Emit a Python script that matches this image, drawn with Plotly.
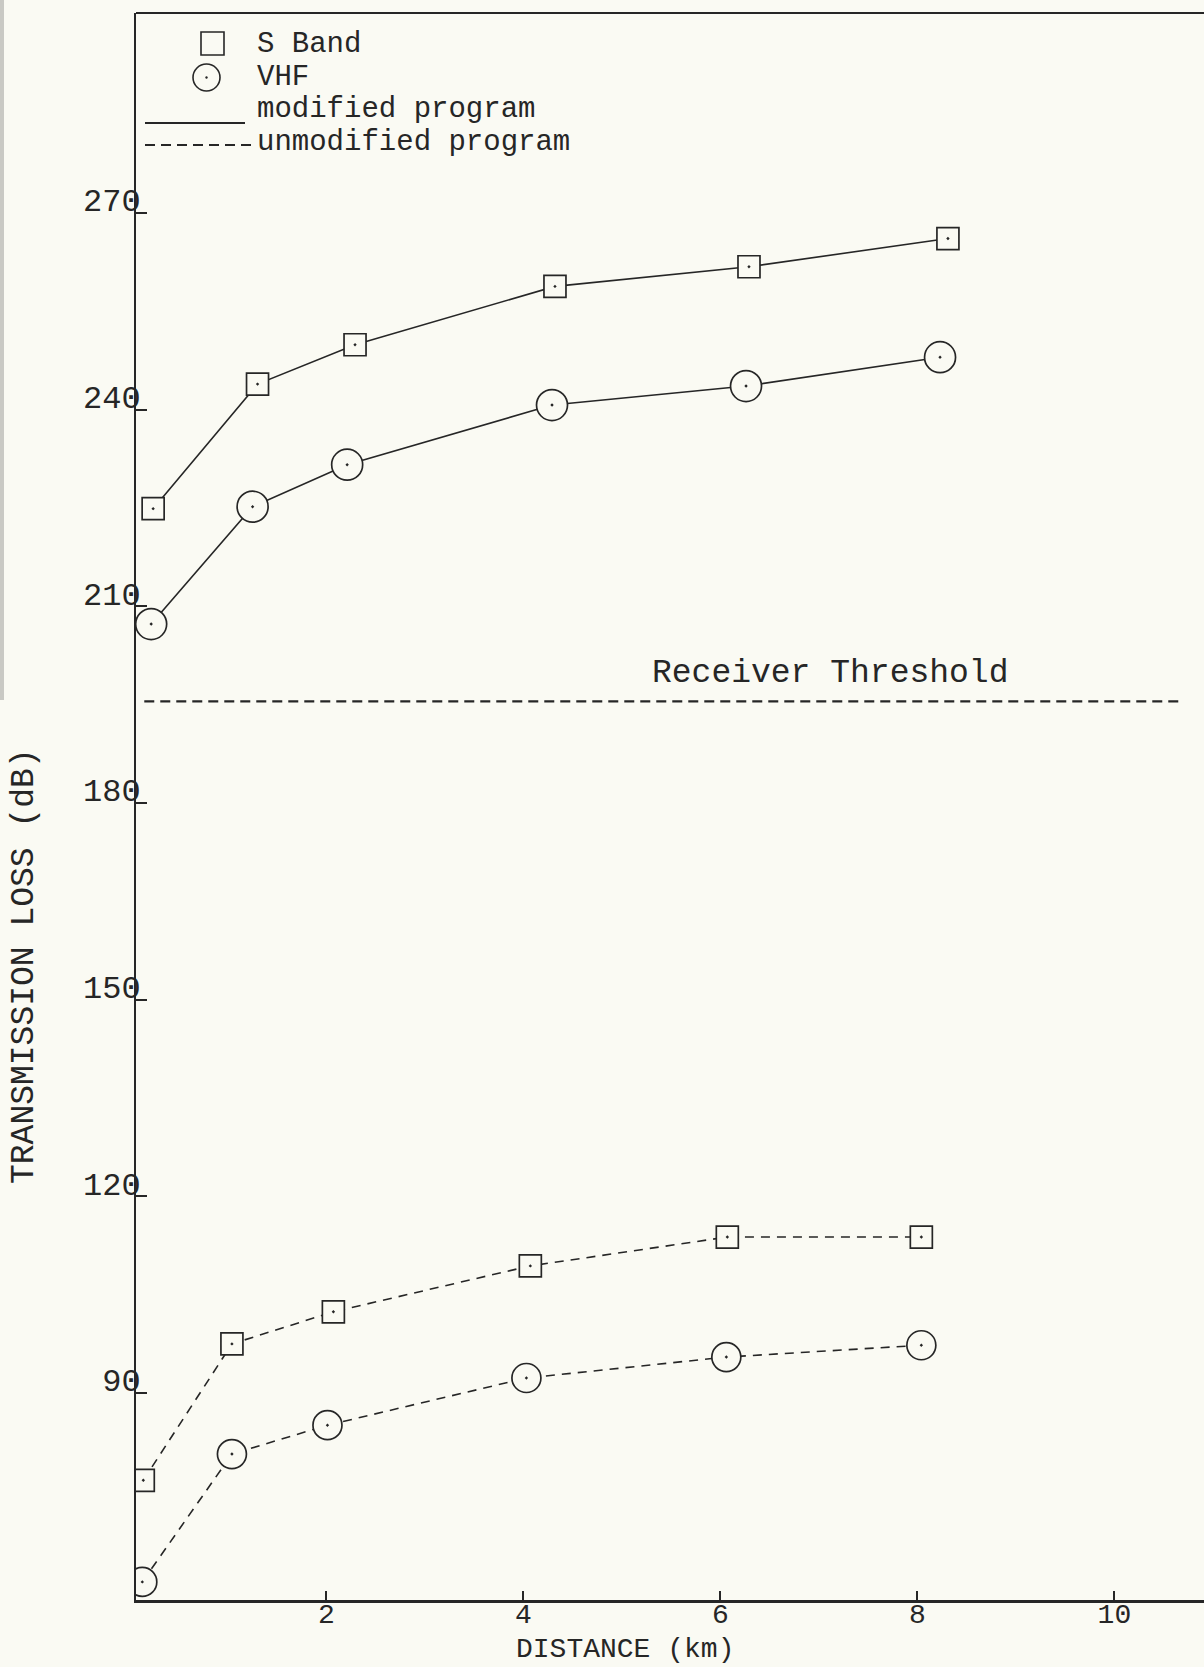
import plotly.graph_objects as go

# ---------------- data ----------------
sband_mod_x = [0.24, 1.30, 2.29, 4.32, 6.29, 8.31]
sband_mod_y = [224.9, 243.9, 249.9, 258.8, 261.8, 266.1]
vhf_mod_x = [0.22, 1.25, 2.21, 4.29, 6.26, 8.23]
vhf_mod_y = [207.3, 225.2, 231.6, 240.7, 243.6, 248.0]
sband_unmod_x = [0.14, 1.04, 2.07, 4.07, 6.07, 8.04]
sband_unmod_y = [76.7, 97.5, 102.4, 109.4, 113.8, 113.8]
vhf_unmod_x = [0.13, 1.04, 2.01, 4.03, 6.06, 8.04]
vhf_unmod_y = [61.2, 80.7, 85.1, 92.3, 95.5, 97.3]
threshold_x = [0.15, 10.65]
threshold_level = 195.5
x_ticks = [2, 4, 6, 8, 10]
y_ticks = [90, 120, 150, 180, 210, 240, 270]

# ---------------- layout geometry ----------------
W, H = 1204, 1667
L, R, T, B = 136, 0, 13, 67
PW, PH = W - L - R, H - T - B
BG = "#fafaf3"
INK = "#262626"
FONT = "Liberation Mono, DejaVu Sans Mono, monospace"
FS = 33      # annotations (threshold, y title)
FS_LEG = 29  # legend lines (tightly stacked)
FS_Y = 32    # y tick labels
FS_X = 28    # x tick labels and x title


def px(x):
    return (x - L) / PW


def py(y):
    return (H - B - y) / PH


fig = go.Figure()

marker_common = dict(color=BG, line=dict(color=INK, width=1.7))

fig.add_trace(go.Scatter(
    x=sband_mod_x, y=sband_mod_y, mode="lines+markers", showlegend=False,
    line=dict(color=INK, width=1.6),
    marker=dict(symbol="square-dot", size=22, **marker_common)))
fig.add_trace(go.Scatter(
    x=vhf_mod_x, y=vhf_mod_y, mode="lines+markers", showlegend=False,
    line=dict(color=INK, width=1.6),
    marker=dict(symbol="circle-dot", size=31, **marker_common)))
fig.add_trace(go.Scatter(
    x=sband_unmod_x, y=sband_unmod_y, mode="lines+markers", showlegend=False,
    line=dict(color=INK, width=1.6, dash="9px,7px"),
    marker=dict(symbol="square-dot", size=22, **marker_common)))
fig.add_trace(go.Scatter(
    x=vhf_unmod_x, y=vhf_unmod_y, mode="lines+markers", showlegend=False,
    line=dict(color=INK, width=1.6, dash="9px,7px"),
    marker=dict(symbol="circle-dot", size=29, **marker_common)))
fig.add_trace(go.Scatter(
    x=threshold_x, y=[threshold_level] * len(threshold_x), mode="lines",
    showlegend=False, line=dict(color=INK, width=2.2, dash="10px,6px")))

shapes = []
# top border
shapes.append(dict(type="line", xref="paper", yref="paper", x0=0, x1=1,
                   y0=1, y1=1, line=dict(color=INK, width=2)))
# legend symbols
shapes.append(dict(type="rect", xref="paper", yref="paper",
                   x0=px(201), x1=px(224), y0=py(55), y1=py(32),
                   line=dict(color=INK, width=1.6)))
shapes.append(dict(type="circle", xref="paper", yref="paper",
                   x0=px(193), x1=px(220), y0=py(91), y1=py(64),
                   line=dict(color=INK, width=1.6)))
shapes.append(dict(type="circle", xref="paper", yref="paper",
                   x0=px(205.5), x1=px(207.5), y0=py(78.5), y1=py(76.5),
                   fillcolor=INK, line=dict(color=INK, width=0.5)))
shapes.append(dict(type="line", xref="paper", yref="paper",
                   x0=px(145), x1=px(245), y0=py(123), y1=py(123),
                   line=dict(color=INK, width=1.8)))
shapes.append(dict(type="line", xref="paper", yref="paper",
                   x0=px(145), x1=px(257), y0=py(145), y1=py(145),
                   line=dict(color=INK, width=1.8, dash="10px,6px")))
# scan edge artefact at far left
shapes.append(dict(type="rect", xref="paper", yref="paper",
                   x0=px(0), x1=px(4), y0=py(700), y1=py(0),
                   fillcolor="#c9c9c4", line=dict(width=0), layer="below"))

leg_font = dict(family=FONT, size=FS_LEG, color=INK)
ann_font = dict(family=FONT, size=FS, color=INK)
annotations = [
    dict(text="S Band", x=px(255), y=py(44), xref="paper", yref="paper",
         xanchor="left", yanchor="middle", showarrow=False, font=leg_font),
    dict(text="VHF", x=px(255), y=py(77), xref="paper", yref="paper",
         xanchor="left", yanchor="middle", showarrow=False, font=leg_font),
    dict(text="modified program", x=px(255), y=py(110), xref="paper", yref="paper",
         xanchor="left", yanchor="middle", showarrow=False, font=leg_font),
    dict(text="unmodified program", x=px(255), y=py(143), xref="paper", yref="paper",
         xanchor="left", yanchor="middle", showarrow=False, font=leg_font),
    dict(text="Receiver Threshold", x=7.11, y=199.8, xref="x", yref="y",
         xanchor="center", yanchor="middle", showarrow=False, font=ann_font),
    dict(text="TRANSMISSION LOSS (dB)", x=px(24), y=py(966), xref="paper", yref="paper",
         xanchor="center", yanchor="middle", textangle=-90, showarrow=False,
         font=ann_font),
    dict(text="DISTANCE (km)", x=px(625), y=py(1667), xref="paper", yref="paper",
         xanchor="center", yanchor="bottom", showarrow=False,
         font=dict(family=FONT, size=FS_X, color=INK)),
]

fig.update_layout(
    width=W, height=H,
    margin=dict(l=L, r=R, t=T, b=B, pad=0),
    paper_bgcolor=BG, plot_bgcolor=BG,
    font=dict(family=FONT, size=FS, color=INK),
    showlegend=False,
    shapes=shapes,
    annotations=annotations,
    xaxis=dict(range=[0.066, 10.91], tickvals=x_ticks, ticktext=[str(v) for v in x_ticks],
               ticks="inside", ticklen=9, tickwidth=1.5, tickcolor=INK,
               tickfont=dict(family=FONT, size=FS_X, color=INK),
               showline=True, linecolor=INK, linewidth=3, showgrid=False,
               zeroline=False, ticklabelstandoff=-14),
    yaxis=dict(range=[58.44, 300.5], tickvals=y_ticks, ticktext=[str(v) for v in y_ticks],
               ticks="inside", ticklen=11, tickwidth=1.5, tickcolor=INK,
               tickfont=dict(family=FONT, size=FS_Y, color=INK),
               showline=True, linecolor=INK, linewidth=2, showgrid=False,
               zeroline=False, ticklabelstandoff=-13, ticklabelshift=-13),
)

fig.write_html("out.html")
